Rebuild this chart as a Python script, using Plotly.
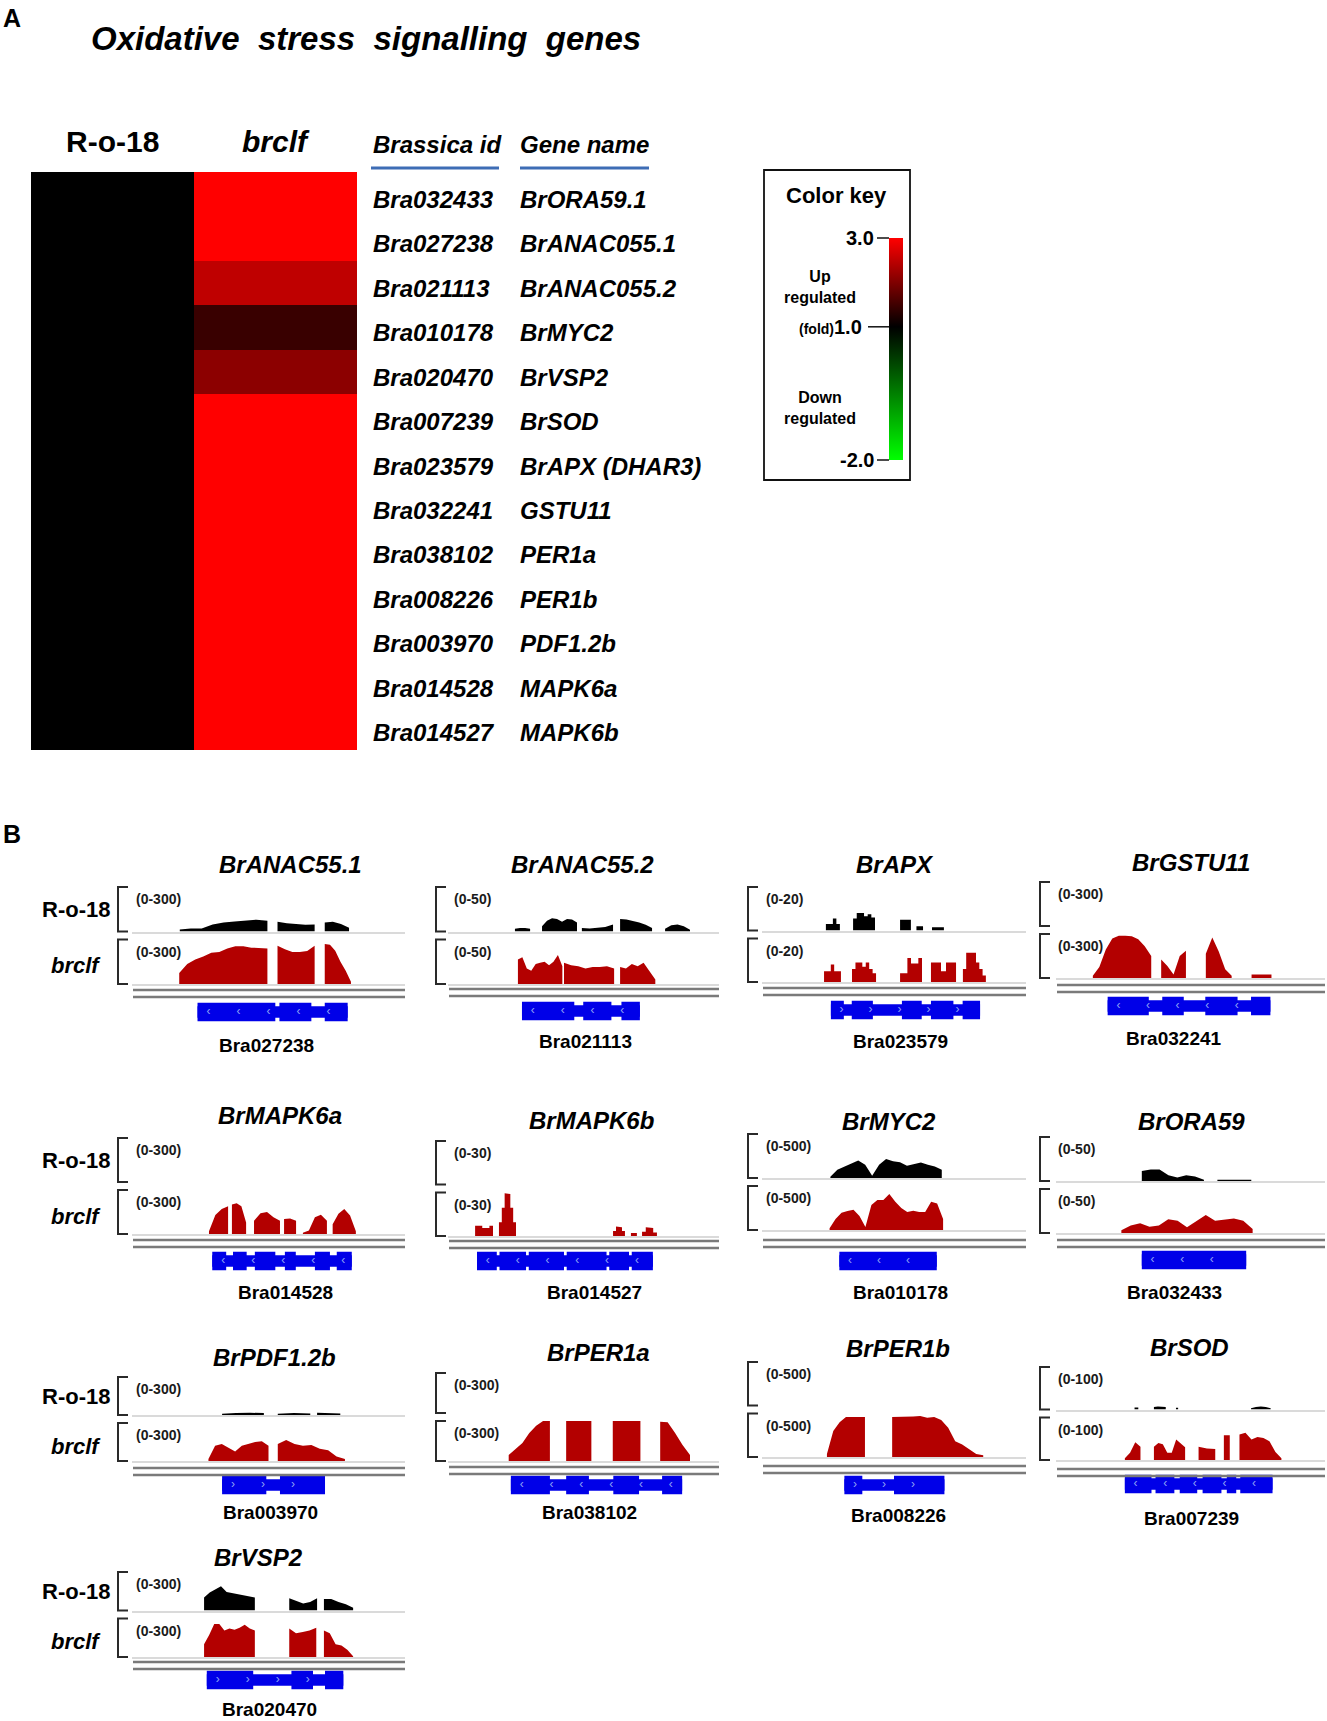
import plotly.graph_objects as go

W, H = 1327, 1721
FONT = "Liberation Sans, Arial, sans-serif"

# ------------------------------------------------------------------ Panel A data
BRASSICA_IDS = ["Bra032433", "Bra027238", "Bra021113", "Bra010178", "Bra020470",
                "Bra007239", "Bra023579", "Bra032241", "Bra038102", "Bra008226",
                "Bra003970", "Bra014528", "Bra014527"]
GENE_NAMES = ["BrORA59.1", "BrANAC055.1", "BrANAC055.2", "BrMYC2", "BrVSP2",
              "BrSOD", "BrAPX (DHAR3)", "GSTU11", "PER1a", "PER1b",
              "PDF1.2b", "MAPK6a", "MAPK6b"]
SAMPLES = ["R-o-18", "brclf"]
FOLD_RO18 = [1.0, 1.0, 1.0, 1.0, 1.0, 1.0, 1.0, 1.0, 1.0, 1.0, 1.0, 1.0, 1.0]
FOLD_BRCLF = [3.0, 3.0, 2.5, 1.45, 2.1, 3.0, 3.0, 3.0, 3.0, 3.0, 3.0, 3.0, 3.0]
KEY_TICKS = [3.0, 1.0, -2.0]
KEY_MIN, KEY_MAX = -2.0, 3.0

# ------------------------------------------------------------------ Panel B data
# coverage blocks: (start %, end %, read depth profile); exons: (start %, end %)
ANAC551_RO18 = [(17.5, 49.6, [13, 20, 20, 47, 60, 67, 73, 80, 73]),
                (53.3, 66.9, [65, 55, 50, 45, 48]),
                (70.6, 79.5, [60, 65, 50, 25])]
ANAC551_BRCLF = [(17.3, 49.6, [75, 135, 165, 185, 210, 215, 240, 255, 255, 245, 245, 240]),
                 (53.3, 66.9, [258, 234, 216, 216, 222, 258]),
                 (70.6, 80.2, [270, 264, 225, 150, 90, 15])]
ANAC551_EXONS = [(24, 52.5), (54, 65.7), (70.6, 79)]

ANAC552_RO18 = [(24.7, 30.3, [3, 4, 4, 3]),
                (34.7, 47.6, [6, 12, 15, 14, 11, 14, 13.5, 10]),
                (49.4, 60.9, [4, 3.5, 4, 5, 8]),
                (63.5, 75.3, [14, 13.5, 12, 10, 7.5, 4]),
                (80.1, 89.3, [3, 7, 8, 6, 2])]
ANAC552_BRCLF = [(25.8, 42.2, [27.5, 30, 17.5, 15, 22.5, 24, 25, 21, 25, 32.5, 20]),
                 (42.8, 61.3, [24, 21, 20, 17.5, 19, 19, 20, 17.5]),
                 (63.5, 76.5, [19, 17.5, 22.5, 20, 24, 15, 5])]
ANAC552_EXONS = [(27.3, 46.6), (49.9, 60.3), (64, 70.8)]

APX_RO18 = [(24.2, 29.5, [3, 3, 5.5, 3]),
            (34.5, 42.8, [5.5, 8, 8, 6.5, 7.5, 6]),
            (52.3, 56.4, [5]),
            (58.5, 61.0, [2]),
            (64.4, 68.9, [1.5])]
APX_BRCLF = [(23.5, 29.9, [5, 5, 8, 5, 5]),
             (34.1, 43.2, [6, 9, 9, 7, 9, 6, 4]),
             (52.3, 60.6, [4, 4, 11, 8.5, 8.5, 11]),
             (64.0, 73.5, [9, 9, 5, 9, 9]),
             (76.1, 84.8, [6, 13.5, 13.5, 13.5, 9, 6, 3])]
APX_EXONS = [(26.1, 31), (34, 42), (53, 60.5), (64, 72.5), (76, 82.6)]

GSTU11_RO18 = []
GSTU11_BRCLF = [(13.7, 35.4, [15, 75, 195, 270, 288, 288, 285, 264, 216, 150]),
                (39.1, 48.3, [126, 81, 24, 150, 186]),
                (55.7, 65.3, [165, 276, 180, 60, 15]),
                (72.7, 80.1, [24, 24])]
GSTU11_EXONS = [(19.2, 34.5), (39.5, 47.5), (55.5, 67.5), (72.5, 79.7)]

MAPK6A_RO18 = []
MAPK6A_BRCLF = [(28.2, 35.2, [18, 129, 171, 189]),
                (36.6, 41.8, [201, 210, 189, 78]),
                (44.7, 54.2, [90, 141, 150, 114, 90]),
                (55.7, 60.1, [102, 105, 90]),
                (62.6, 71.4, [9, 24, 114, 132, 90]),
                (73.5, 82.0, [66, 138, 171, 126, 18])]
MAPK6A_EXONS = [(29.4, 34.5), (37, 42), (45, 52.5), (56, 60), (67, 72.5), (75, 80.5)]

MAPK6B_RO18 = []
MAPK6B_BRCLF = [(10.0, 16.6, [7, 7, 5.5, 5.5, 7]),
                (18.8, 25.1, [9.5, 19.5, 29.5, 29, 19.5, 9.5]),
                (60.9, 65.3, [3.5, 6.5, 6, 3.5]),
                (67.5, 69.7, [2]),
                (71.6, 77.1, [3, 6, 5.5, 2.5])]
MAPK6B_EXONS = [(10.7, 18), (19, 28.8), (29.8, 42.8), (43.8, 58.5), (59.5, 66.8), (67.8, 75.6)]

MYC2_RO18 = [(25.9, 68.1, [15, 95, 130, 160, 200, 150, 25, 150, 215, 190, 180, 140,
                           160, 175, 150, 130, 95])]
MYC2_BRCLF = [(25.6, 68.6, [20, 125, 195, 215, 230, 160, 35, 285, 340, 340, 410, 320,
                            250, 205, 220, 205, 205, 320, 300, 125])]
MYC2_EXONS = [(29.3, 66.2)]

ORA59_RO18 = [(31.9, 55.0, [11.5, 13, 13, 6.5, 4, 6.5, 5, 1.5]),
              (60.0, 72.6, [1.5, 1.5])]
ORA59_BRCLF = [(24.3, 73.1, [3, 8.5, 11, 7, 8.5, 15.5, 14, 6.5, 13.5, 20.5, 14, 15.5,
                             16.5, 14, 4.5])]
ORA59_EXONS = [(31.9, 70.7)]

PDF_RO18 = [(33.0, 48.3, [9, 15, 18, 15]),
            (53.4, 65.3, [9, 15, 12]),
            (67.8, 76.3, [18, 15, 12])]
PDF_BRCLF = [(28.0, 50.0, [15, 120, 135, 105, 75, 120, 135, 150, 156, 120]),
             (53.4, 78.0, [135, 165, 135, 120, 126, 96, 84, 36, 15])]
PDF_EXONS = [(33, 49.2), (54.2, 70.7)]

PER1A_RO18 = []
PER1A_BRCLF = [(22.4, 37.6, [45, 90, 135, 210, 264, 300, 300]),
               (43.6, 52.9, [300, 300]),
               (60.8, 71.0, [300, 300, 295, 300]),
               (78.3, 89.3, [295, 290, 210, 120, 45])]
PER1A_EXONS = [(23.2, 37.6), (43.6, 52), (61, 70.5), (79, 86.4)]

PER1B_RO18 = []
PER1B_BRCLF = [(24.6, 39.0, [35, 300, 400, 460, 460, 460, 460]),
               (49.3, 83.8, [460, 460, 460, 465, 470, 450, 460, 425, 335, 180, 145, 85, 35, 20])]
PER1B_EXONS = [(31.2, 38), (50, 69.1)]

SOD_RO18 = [(29.2, 30.6, [5]),
            (36.4, 40.8, [6, 7, 7, 6]),
            (44.6, 45.4, [4]),
            (72.5, 79.8, [3, 6, 7, 6, 3])]
SOD_BRCLF = [(25.6, 31.4, [4, 17, 42, 31]),
             (36.4, 48.0, [31, 40, 37, 17, 17, 48, 40, 30]),
             (53.0, 59.2, [31, 27, 26]),
             (62.4, 64.6, [58]),
             (68.2, 83.8, [60, 64, 48, 54, 52, 44, 19, 4])]
SOD_EXONS = [(25.6, 35.5), (37, 44), (46, 52.5), (54.5, 61.5), (63.5, 67), (68.5, 80.5)]

VSP2_RO18 = [(26.4, 45.0, [102, 141, 165, 189, 144, 135, 129, 117, 111, 102]),
             (57.6, 67.8, [96, 72, 54, 66, 96]),
             (70.3, 81.0, [90, 90, 66, 48, 21])]
VSP2_BRCLF = [(26.4, 45.0, [99, 171, 258, 258, 207, 222, 213, 228, 252, 222, 207]),
              (57.6, 67.5, [222, 186, 195, 207, 228]),
              (70.3, 81.0, [207, 186, 99, 90, 57, 6])]
VSP2_EXONS = [(27.4, 44.4), (58.4, 66.3), (70.7, 77.4)]

PANEL_TITLES = ["BrANAC55.1", "BrANAC55.2", "BrAPX", "BrGSTU11",
                "BrMAPK6a", "BrMAPK6b", "BrMYC2", "BrORA59",
                "BrPDF1.2b", "BrPER1a", "BrPER1b", "BrSOD", "BrVSP2"]
PANEL_LOCI = ["Bra027238", "Bra021113", "Bra023579", "Bra032241",
              "Bra014528", "Bra014527", "Bra010178", "Bra032433",
              "Bra003970", "Bra038102", "Bra008226", "Bra007239", "Bra020470"]
PANEL_SCALES = [300, 50, 20, 300, 300, 30, 500, 50, 300, 300, 500, 100, 300]
PANEL_STRANDS = ["-", "-", "+", "-", "-", "-", "-", "-", "+", "-", "+", "-", "+"]
COV_RO18 = [ANAC551_RO18, ANAC552_RO18, APX_RO18, GSTU11_RO18, MAPK6A_RO18, MAPK6B_RO18,
            MYC2_RO18, ORA59_RO18, PDF_RO18, PER1A_RO18, PER1B_RO18, SOD_RO18, VSP2_RO18]
COV_BRCLF = [ANAC551_BRCLF, ANAC552_BRCLF, APX_BRCLF, GSTU11_BRCLF, MAPK6A_BRCLF,
             MAPK6B_BRCLF, MYC2_BRCLF, ORA59_BRCLF, PDF_BRCLF, PER1A_BRCLF,
             PER1B_BRCLF, SOD_BRCLF, VSP2_BRCLF]
EXONS = [ANAC551_EXONS, ANAC552_EXONS, APX_EXONS, GSTU11_EXONS, MAPK6A_EXONS,
         MAPK6B_EXONS, MYC2_EXONS, ORA59_EXONS, PDF_EXONS, PER1A_EXONS,
         PER1B_EXONS, SOD_EXONS, VSP2_EXONS]
STEP_PANELS = {"BrAPX", "BrMAPK6b"}

# ------------------------------------------------------------------ layout (pixels)
PANEL_COL = [0, 1, 2, 3, 0, 1, 2, 3, 0, 1, 2, 3, 0]
PANEL_TITLE_Y = [864, 864, 864, 862, 1115, 1120, 1121, 1121, 1357, 1352, 1348, 1347, 1557]
PANEL_TOP_Y = [887, 887, 887, 882, 1138, 1141, 1134, 1137, 1377, 1373, 1362, 1367, 1572]
PANEL_BASE_Y = [984, 984, 982, 978, 1234, 1236, 1230, 1233, 1461, 1461, 1457, 1460, 1657]
PANEL_DBL_Y = [990, 989, 988, 985, 1240, 1241, 1240, 1240, 1468, 1467, 1466, 1469, 1662]
PANEL_GENE_Y = [1012, 1011, 1010, 1006, 1261, 1261, 1261, 1260, 1485, 1485, 1485, 1484, 1680]
PANEL_LABEL_Y = [1045, 1041, 1041, 1038, 1292, 1292, 1292, 1292, 1512, 1512, 1515, 1518, 1709]
TITLE_X = [290, 582, 895, 1191, 280, 591, 889, 1191, 274, 598, 898, 1189, 258]
LABEL_X = [266, 585, 900, 1174, 285, 594, 900, 1174, 270, 589, 898, 1191, 269]
COL_BRACKET_X = [118, 436, 748, 1040]
COL_TRACK_X = [(132, 405), (448, 719), (762, 1026), (1056, 1325)]

BLACK = "#000000"
DARKRED = "#B30000"
BLUE = "#0000E8"


def px(x):
    return x / W


def py(y):
    return 1 - y / H


def block_xy(blocks, step=False):
    xs, ys = [], []
    for x0, x1, h in blocks:
        n = len(h)
        xs.append(x0)
        ys.append(0)
        if step or n == 1:
            w = (x1 - x0) / n
            for i, v in enumerate(h):
                xs += [x0 + i * w, x0 + (i + 1) * w]
                ys += [v, v]
        else:
            for i, v in enumerate(h):
                xs.append(x0 + (x1 - x0) * i / (n - 1))
                ys.append(v)
        xs.append(x1)
        ys.append(0)
    return xs, ys


def ann(text, x, y, size, xanchor="center", xref="paper", yref="paper", yshift=0, color="#000"):
    xv = px(x) if xref == "paper" else x
    yv = py(y) if yref == "paper" else y
    return dict(text=text, x=xv, y=yv, xref=xref, yref=yref, xanchor=xanchor,
                yanchor="middle", showarrow=False, yshift=yshift,
                font=dict(family=FONT, size=size, color=color))


fig = go.Figure()
layout = {}
shapes = []
annotations = []

# ------------------------------------------------------------------ Panel A
HM_X0, HM_X1, HM_Y0, HM_Y1 = 31, 357, 172, 750
fig.add_trace(go.Heatmap(
    z=[[a, b] for a, b in zip(FOLD_RO18, FOLD_BRCLF)],
    x=[0, 1], y=list(range(len(BRASSICA_IDS))),
    zmin=KEY_MIN, zmax=KEY_MAX,
    colorscale=[[0, "#00FF00"], [(1.0 - KEY_MIN) / (KEY_MAX - KEY_MIN), "#000000"], [1, "#FF0000"]],
    colorbar=dict(x=px(889), xanchor="left", y=py(349), yanchor="middle",
                  len=222, lenmode="pixels", thickness=14, thicknessmode="pixels",
                  outlinewidth=0, showticklabels=False, ticks="", xpad=0, ypad=0),
    xaxis="x", yaxis="y", hoverinfo="skip"))
layout["xaxis"] = dict(domain=[px(HM_X0), px(HM_X1)], range=[-0.5, 1.5], visible=False,
                       anchor="y", fixedrange=True)
layout["yaxis"] = dict(domain=[py(HM_Y1), py(HM_Y0)], range=[len(BRASSICA_IDS) - 0.5, -0.5],
                       visible=False, anchor="x", fixedrange=True)

annotations.append(ann("<b>A</b>", 12, 18, 25))
annotations.append(ann("<b><i>Oxidative  stress  signalling  genes</i></b>", 366, 39, 33))
annotations.append(ann("<b>R-o-18</b>", 0, 142, 30, xref="x"))
annotations.append(ann("<b><i>brclf</i></b>", 1, 142, 30, xref="x"))
annotations.append(ann("<b><i>Brassica id</i></b>", 437, 145, 24))
annotations.append(ann("<b><i>Gene name</i></b>", 584, 145, 24))
shapes.append(dict(type="line", xref="paper", yref="paper", x0=px(371), x1=px(499),
                   y0=py(168), y1=py(168), line=dict(color="#3E6DB5", width=3)))
shapes.append(dict(type="line", xref="paper", yref="paper", x0=px(520), x1=px(649),
                   y0=py(168), y1=py(168), line=dict(color="#3E6DB5", width=3)))
for i, (bid, gname) in enumerate(zip(BRASSICA_IDS, GENE_NAMES)):
    annotations.append(ann(f"<b><i>{bid}</i></b>", 371, i, 24, xanchor="left",
                           yref="y", yshift=-5))
    annotations.append(ann(f"<b><i>{gname}</i></b>", 518, i, 24, xanchor="left",
                           yref="y", yshift=-5))

# colour key box and labels
BAR_TOP, BAR_BOT = 238, 460
shapes.append(dict(type="rect", xref="paper", yref="paper", x0=px(764), x1=px(910),
                   y0=py(480), y1=py(170), line=dict(color="#111", width=1.8)))
annotations.append(ann("<b>Color key</b>", 836, 195, 22))
for v in KEY_TICKS:
    yk = BAR_BOT - (v - KEY_MIN) / (KEY_MAX - KEY_MIN) * (BAR_BOT - BAR_TOP)
    if v == 1.0:
        txt = "<b><span style='font-size:14px'>(fold)</span>1.0</b>"
        xt, x0t = 864, 868
    else:
        txt = f"<b>{v:.1f}</b>"
        xt, x0t = 876, 877
    annotations.append(ann(txt, xt, yk, 20, xanchor="right"))
    shapes.append(dict(type="line", xref="paper", yref="paper", x0=px(x0t), x1=px(889),
                       y0=py(yk), y1=py(yk), line=dict(color="#111", width=1.5)))
annotations.append(ann("<b>Up<br>regulated</b>", 820, 287, 16))
annotations.append(ann("<b>Down<br>regulated</b>", 820, 408, 16))

# ------------------------------------------------------------------ Panel B
annotations.append(ann("<b>B</b>", 12, 834, 25))

n = 2
for i, title in enumerate(PANEL_TITLES):
    col = PANEL_COL[i]
    xl, xr = COL_TRACK_X[col]
    bx = COL_BRACKET_X[col]
    top, base = PANEL_TOP_Y[i], PANEL_BASE_Y[i]
    th = (base - top - 8) / 2
    tracks = [(COV_RO18[i], BLACK, top, top + th), (COV_BRCLF[i], DARKRED, base - th, base)]
    scale = PANEL_SCALES[i]
    step = title in STEP_PANELS
    for k, (cov, color, ttop, tbot) in enumerate(tracks):
        xa, ya = f"x{n}", f"y{n}"
        layout[f"xaxis{n}"] = dict(domain=[px(xl), px(xr)], range=[0, 100], anchor=ya,
                                   showgrid=False, zeroline=False, showticklabels=False,
                                   ticks="", showline=True, linecolor="#DADADA",
                                   linewidth=1.5, fixedrange=True)
        layout[f"yaxis{n}"] = dict(domain=[py(tbot), py(ttop)], range=[0, scale],
                                   anchor=xa, visible=False, fixedrange=True)
        if cov:
            xs, ys = block_xy(cov, step)
            fig.add_trace(go.Scatter(x=xs, y=ys, mode="lines", fill="tozeroy",
                                     fillcolor=color, line=dict(width=0, color=color),
                                     xaxis=xa, yaxis=ya, hoverinfo="skip",
                                     showlegend=False))
        # bracket
        shapes.append(dict(type="path", xref="paper", yref="paper",
                           path=f"M {px(bx + 10)},{py(ttop)} L {px(bx)},{py(ttop)} "
                                f"L {px(bx)},{py(tbot)} L {px(bx + 10)},{py(tbot)}",
                           line=dict(color="#2a2a2a", width=2)))
        annotations.append(ann(f"<b>(0-{scale})</b>", bx + 16, ttop + 12, 14,
                               xanchor="left", color="#1a1a1a"))
        if col == 0:
            lab = "<b>R-o-18</b>" if k == 0 else "<b><i>brclf</i></b>"
            annotations.append(ann(lab, 76, (ttop + tbot) / 2 + (0 if k == 0 else 4), 22))
        n += 1

    # double lines
    for dy in (0, 7):
        yl = PANEL_DBL_Y[i] + dy
        shapes.append(dict(type="line", xref="paper", yref="paper", x0=px(xl + 1), x1=px(xr),
                           y0=py(yl), y1=py(yl), line=dict(color="#7A7A7A", width=2.5)))

    # gene model
    xa, ya = f"x{n}", f"y{n}"
    g = PANEL_GENE_Y[i]
    layout[f"xaxis{n}"] = dict(domain=[px(xl), px(xr)], range=[0, 100], anchor=ya,
                               visible=False, fixedrange=True)
    layout[f"yaxis{n}"] = dict(domain=[py(g + 9.5), py(g - 9.5)], range=[0, 1], anchor=xa,
                               visible=False, fixedrange=True)
    ex = EXONS[i]
    gs, ge = ex[0][0], ex[-1][1]
    shapes.append(dict(type="rect", xref=xa, yref=ya, x0=gs, x1=ge, y0=0.2, y1=0.8,
                       fillcolor=BLUE, line=dict(width=0), layer="below"))
    for s, e in ex:
        shapes.append(dict(type="rect", xref=xa, yref=ya, x0=s, x1=e, y0=0, y1=1,
                           fillcolor=BLUE, line=dict(width=0), layer="below"))
    chev = "‹" if PANEL_STRANDS[i] == "-" else "›"
    cx = []
    p = gs + 4
    while p < ge - 3:
        cx.append(p)
        p += 11
    fig.add_trace(go.Scatter(x=cx, y=[0.5] * len(cx), mode="text", text=[chev] * len(cx),
                             textfont=dict(family=FONT, size=12, color="#8EA2F5"),
                             xaxis=xa, yaxis=ya, hoverinfo="skip", showlegend=False))
    n += 1

    annotations.append(ann(f"<b><i>{title}</i></b>", TITLE_X[i], PANEL_TITLE_Y[i], 24))
    annotations.append(ann(f"<b>{PANEL_LOCI[i]}</b>", LABEL_X[i], PANEL_LABEL_Y[i], 19))

fig.update_layout(
    width=W, height=H, margin=dict(l=0, r=0, t=0, b=0),
    paper_bgcolor="white", plot_bgcolor="white",
    showlegend=False, shapes=shapes, annotations=annotations,
    font=dict(family=FONT, color="#000"),
    **layout)

fig.write_html("out.html", config={"displayModeBar": False},
               post_script="document.body.style.margin='0px';")
